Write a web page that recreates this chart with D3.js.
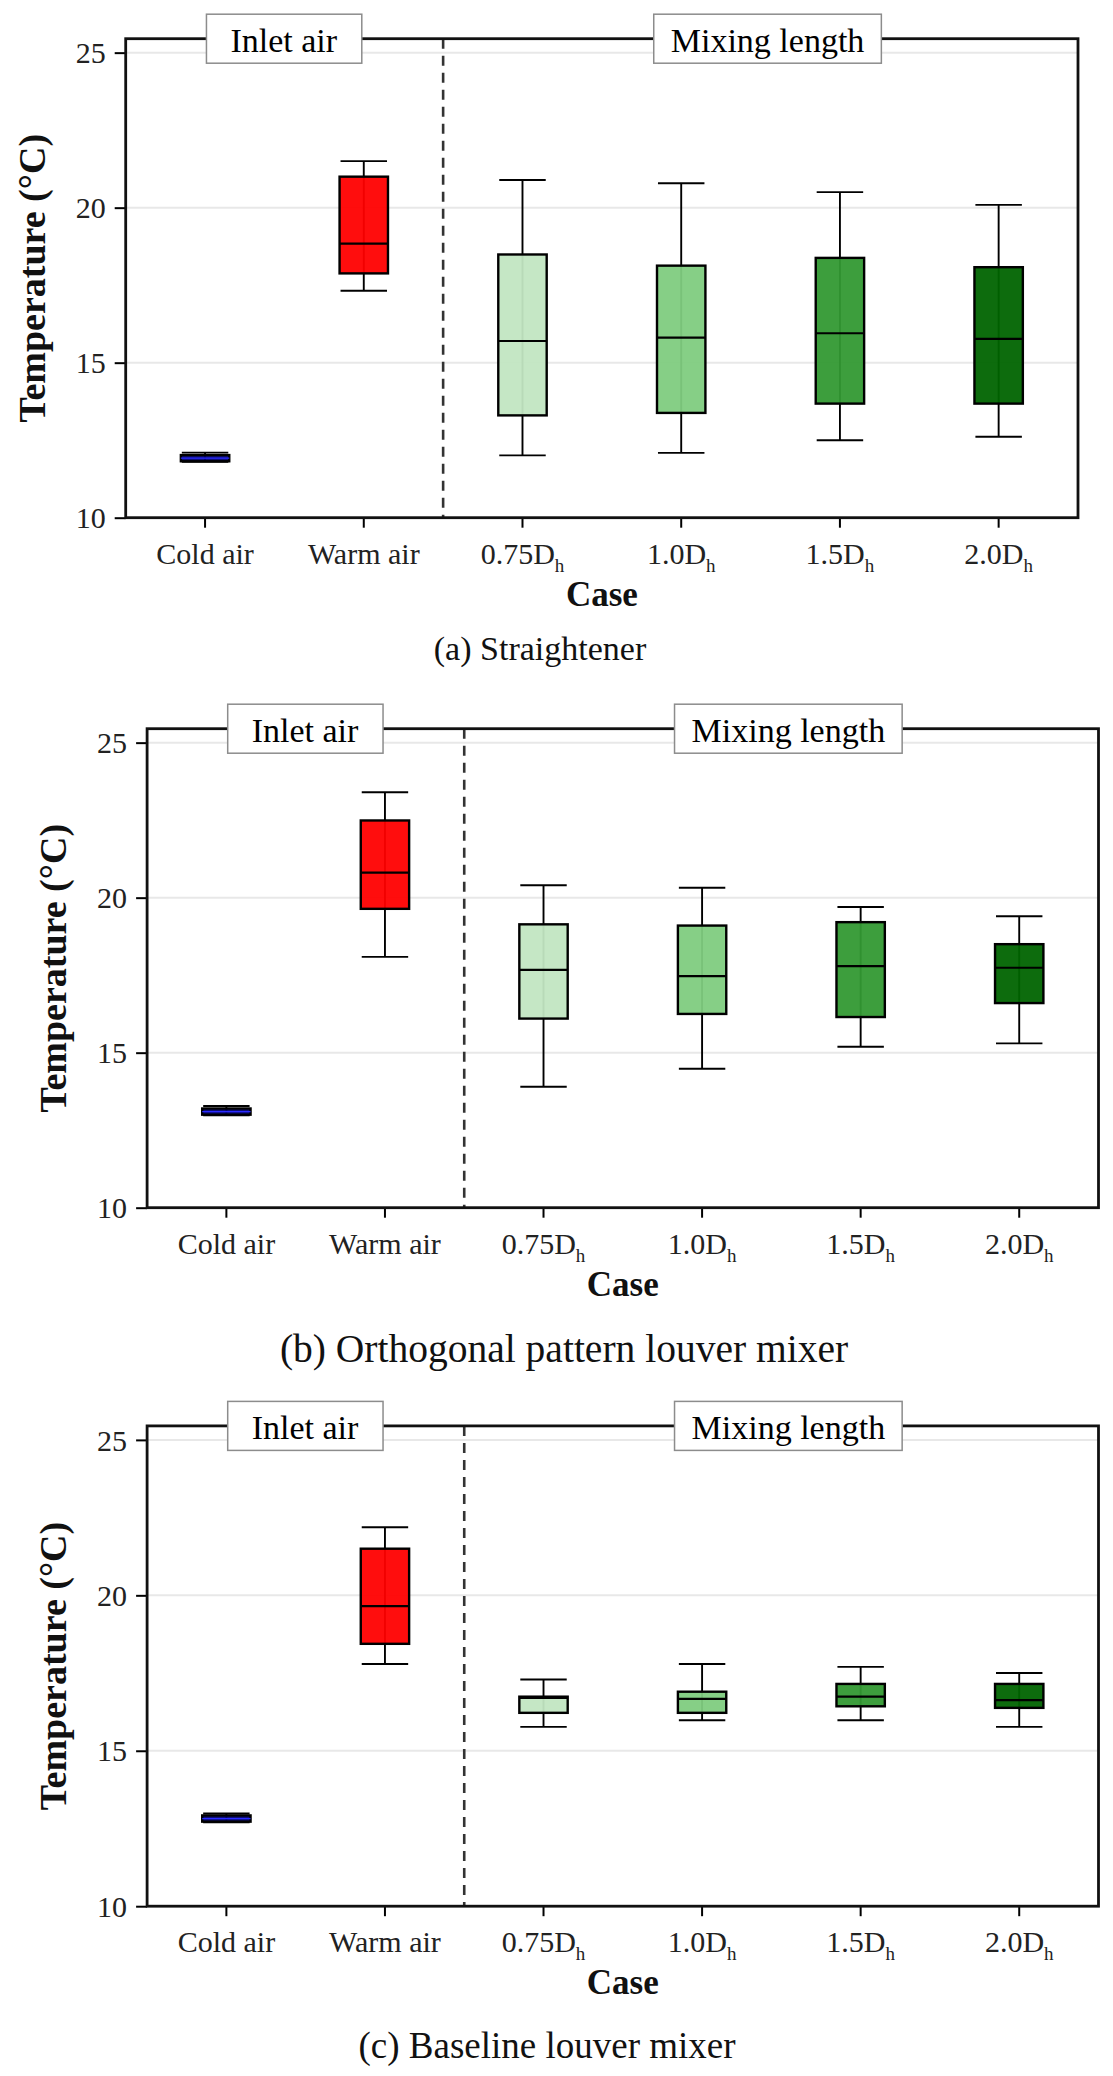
<!DOCTYPE html>
<html>
<head>
<meta charset="utf-8">
<script src="https://cdn.jsdelivr.net/npm/d3@7"></script>
<style>
  body { margin: 0; background: #fff; }
  svg { display: block; }
</style>
</head>
<body>
<svg id="chart"></svg>
<script>
// Categories on the x axis
const categories = ['Cold air', 'Warm air', '0.75Dh', '1.0Dh', '1.5Dh', '2.0Dh'];
// tick label: [main text, subscript]
const tickLabels = [['Cold air', ''], ['Warm air', ''], ['0.75D', 'h'], ['1.0D', 'h'], ['1.5D', 'h'], ['2.0D', 'h']];
const yTicks = [10, 15, 20, 25];
const groupLabels = ['Inlet air', 'Mixing length'];
const captions = ['(a) Straightener', '(b) Orthogonal pattern louver mixer', '(c) Baseline louver mixer'];

// five-number summaries per category: [whisker low, Q1, median, Q3, whisker high]
const straightener = [
  [11.80, 11.82, 11.92, 12.02, 12.10],
  [17.32, 17.88, 18.84, 21.00, 21.50],
  [12.01, 13.30, 15.70, 18.49, 20.89],
  [12.09, 13.38, 15.81, 18.13, 20.79],
  [12.50, 13.68, 15.95, 18.38, 20.50],
  [12.61, 13.68, 15.77, 18.08, 20.09]
];
const orthogonal = [
  [12.98, 13.00, 13.10, 13.20, 13.28],
  [18.09, 19.64, 20.81, 22.49, 23.40],
  [13.90, 16.10, 17.67, 19.14, 20.40],
  [14.48, 16.25, 17.47, 19.10, 20.32],
  [15.19, 16.15, 17.79, 19.21, 19.70],
  [15.30, 16.60, 17.74, 18.50, 19.40]
];
const baseline = [
  [12.70, 12.72, 12.82, 12.92, 12.98],
  [17.79, 18.44, 19.65, 21.50, 22.19],
  [15.77, 16.22, 16.70, 16.74, 17.29],
  [15.98, 16.22, 16.67, 16.90, 17.79],
  [15.98, 16.43, 16.74, 17.15, 17.70],
  [15.77, 16.38, 16.63, 17.15, 17.50]
];

const boxFills = ['#000070', '#ff0000', '#c2e6c2', '#80cc80', '#339933', '#006400'];
const medianColors = ['#2b2bff', '#000', '#000', '#000', '#000', '#000'];

const W = 1113, H = 2076;
const FONT = '"Liberation Serif", "Times New Roman", serif';

const panels = [
  { stats: straightener, caption: captions[0], left: 125.7, right: 1078, top: 38.7, bottom: 517.7, capX: 540, capY: 660, capSize: 34 },
  { stats: orthogonal, caption: captions[1], left: 147.1, right: 1098.5, top: 728.7, bottom: 1207.7, capX: 564, capY: 1362, capSize: 39.5 },
  { stats: baseline, caption: captions[2], left: 147.1, right: 1098.5, top: 1425.9, bottom: 1906.2, capX: 547, capY: 2058, capSize: 37 }
];

const svg = d3.select('#chart').attr('width', W).attr('height', H)
  .style('font-family', FONT);

svg.append('rect').attr('width', W).attr('height', H).attr('fill', '#fff');

panels.forEach(p => {
  const g = svg.append('g');

  const y = d3.scaleLinear().domain([10, 25.45]).range([p.bottom, p.top]);
  const x = d3.scaleBand().domain(categories).range([p.left, p.right]);
  const boxW = x.step() * 0.305;
  const capW = boxW * 0.96;

  // horizontal grid
  g.append('g').selectAll('line').data(yTicks).join('line')
    .attr('x1', p.left).attr('x2', p.right)
    .attr('y1', d => y(d)).attr('y2', d => y(d))
    .attr('stroke', '#e8e8e8').attr('stroke-width', 2);

  // separator between inlet air and mixing length
  g.append('line')
    .attr('x1', x(categories[2])).attr('x2', x(categories[2]))
    .attr('y1', p.top).attr('y2', p.bottom)
    .attr('stroke', '#333').attr('stroke-width', 2.6)
    .attr('stroke-dasharray', '10,7');

  // boxes
  const boxes = g.append('g').selectAll('g.box')
    .data(p.stats.map((s, i) => ({ s, i, cat: categories[i] })))
    .join('g').attr('class', 'box')
    .attr('transform', d => `translate(${x(d.cat) + x.bandwidth() / 2},0)`);

  boxes.append('line') // whisker
    .attr('x1', 0).attr('x2', 0)
    .attr('y1', d => y(d.s[0])).attr('y2', d => y(d.s[4]))
    .attr('stroke', '#000').attr('stroke-width', 1.9);
  boxes.selectAll('line.cap').data(d => [d.s[0], d.s[4]]).join('line')
    .attr('class', 'cap')
    .attr('x1', -capW / 2).attr('x2', capW / 2)
    .attr('y1', v => y(v)).attr('y2', v => y(v))
    .attr('stroke', '#000').attr('stroke-width', 1.9);
  boxes.append('rect')
    .attr('x', -boxW / 2).attr('width', boxW)
    .attr('y', d => y(d.s[3])).attr('height', d => y(d.s[1]) - y(d.s[3]))
    .attr('fill', d => boxFills[d.i]).attr('fill-opacity', 0.95)
    .attr('stroke', '#000').attr('stroke-width', 2.4);
  boxes.append('line') // median
    .attr('x1', -boxW / 2).attr('x2', boxW / 2)
    .attr('y1', d => y(d.s[2])).attr('y2', d => y(d.s[2]))
    .attr('stroke', d => medianColors[d.i])
    .attr('stroke-width', d => d.i === 0 ? 1.2 : 2.2);

  // axes
  const yAxis = g.append('g').attr('transform', `translate(${p.left},0)`)
    .call(d3.axisLeft(y).tickValues(yTicks).tickSize(11).tickPadding(9).tickFormat(d3.format('d')));
  yAxis.select('.domain').remove();
  yAxis.selectAll('line').attr('stroke', '#000').attr('stroke-width', 2);
  yAxis.selectAll('text').attr('font-size', 30).attr('fill', '#222')
    .attr('font-family', FONT).attr('dy', '0.34em');

  const xAxis = g.append('g').attr('transform', `translate(0,${p.bottom})`)
    .call(d3.axisBottom(x).tickSize(10).tickPadding(10));
  xAxis.select('.domain').remove();
  xAxis.selectAll('line').attr('stroke', '#000').attr('stroke-width', 2);
  xAxis.selectAll('text')
    .attr('font-size', 30).attr('fill', '#222').attr('font-family', FONT)
    .attr('y', 46).attr('dy', null)
    .each(function (d, i) {
      const t = d3.select(this).text('');
      t.append('tspan').text(tickLabels[i][0]);
      if (tickLabels[i][1]) {
        t.append('tspan').text(tickLabels[i][1]).attr('font-size', 19).attr('dy', 8);
      }
    });

  // frame
  g.append('rect')
    .attr('x', p.left).attr('y', p.top)
    .attr('width', p.right - p.left).attr('height', p.bottom - p.top)
    .attr('fill', 'none').attr('stroke', '#111').attr('stroke-width', 2.8);

  // group labels sitting on the top frame
  const groupCenters = [p.left + (p.right - p.left) * 0.166, p.left + (p.right - p.left) * 0.674];
  groupLabels.forEach((lab, k) => {
    const lg = g.append('g');
    const r = lg.append('rect');
    const t = lg.append('text')
      .attr('x', groupCenters[k]).attr('y', p.top + 13)
      .attr('text-anchor', 'middle').attr('font-size', 34).attr('fill', '#000')
      .text(lab);
    const bb = t.node().getBBox();
    const pad = k === 0 ? 24 : 17;
    r.attr('x', bb.x - pad).attr('width', bb.width + pad * 2)
      .attr('y', p.top - 24.5).attr('height', 49)
      .attr('fill', '#fff').attr('stroke', '#8c8c8c').attr('stroke-width', 1.5);
  });

  // axis titles
  g.append('text')
    .attr('transform', `translate(${p.left - 94},${(p.top + p.bottom) / 2}) rotate(-90)`)
    .attr('text-anchor', 'middle').attr('dy', '0.35em')
    .attr('font-size', 38).attr('font-weight', 'bold').attr('fill', '#111')
    .text('Temperature (°C)');
  g.append('text')
    .attr('x', (p.left + p.right) / 2).attr('y', p.bottom + 88)
    .attr('text-anchor', 'middle')
    .attr('font-size', 35).attr('font-weight', 'bold').attr('fill', '#111')
    .text('Case');

  // caption
  svg.append('text')
    .attr('x', p.capX).attr('y', p.capY)
    .attr('text-anchor', 'middle')
    .attr('font-size', p.capSize).attr('fill', '#111')
    .text(p.caption);
});
</script>
</body>
</html>
